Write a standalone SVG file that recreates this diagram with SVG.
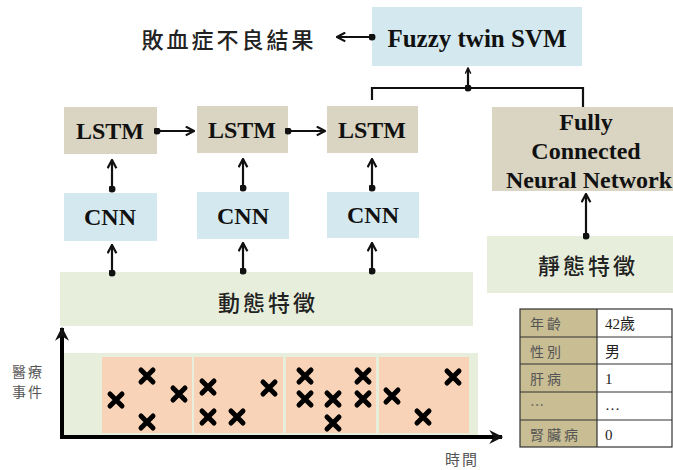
<svg xmlns="http://www.w3.org/2000/svg" width="673" height="470" viewBox="0 0 673 470">
<style>
.en{font-family:"Liberation Serif","Times New Roman",serif;font-weight:bold;font-size:24px;fill:#111;text-anchor:middle}
.cj{font-family:"Noto Sans CJK TC","Noto Sans CJK SC",sans-serif;font-weight:500;font-size:22px;fill:#222;text-anchor:middle;letter-spacing:3px}
.sm{font-family:"Noto Sans CJK TC","Noto Sans CJK SC",sans-serif;font-size:14px;fill:#555;text-anchor:middle;letter-spacing:2px}
.tb{font-family:"Liberation Serif","Noto Sans CJK TC",serif;font-size:15px;fill:#222}
.tl{font-family:"Noto Sans CJK TC",sans-serif;font-size:14px;fill:#555;letter-spacing:3px}
.blue{fill:#d4e9ef}
.tan{fill:#d9d5c2}
.green{fill:#e7efdc}
.org{fill:#f9d3b7}
.ln{stroke:#111;stroke-width:2.2;fill:none}
.x{stroke:#000;stroke-width:5;stroke-linecap:round}
</style>
<defs>
<marker id="ah" viewBox="0 0 10 10" refX="9" refY="5" markerWidth="7" markerHeight="7" orient="auto" markerUnits="userSpaceOnUse">
<path d="M1,1 L9,5 L1,9" fill="none" stroke="#111" stroke-width="2"/>
</marker>
<marker id="ah2" viewBox="0 0 10 10" refX="9" refY="5" markerWidth="11" markerHeight="11" orient="auto" markerUnits="userSpaceOnUse">
<path d="M1.5,1 L9,5 L1.5,9" fill="none" stroke="#111" stroke-width="2"/>
</marker>
<marker id="dot" viewBox="0 0 10 10" refX="5" refY="5" markerWidth="7" markerHeight="7" markerUnits="userSpaceOnUse">
<circle cx="5" cy="5" r="5" fill="#111"/>
</marker>
<marker id="axh" viewBox="0 0 12 12" refX="11" refY="6" markerWidth="16" markerHeight="14" orient="auto" markerUnits="userSpaceOnUse">
<path d="M0,0 L12,6 L0,12 L4,6 Z" fill="#111"/>
</marker>
</defs>

<g id="outcome"><text class="cj" x="229" y="48">敗血症不良結果</text></g>
<g id="svm"><rect class="blue" x="372" y="7" width="210" height="59"/><text class="en" x="477" y="47" style="font-size:25px">Fuzzy twin SVM</text></g>

<g id="lstm1"><rect class="tan" x="64" y="107" width="93" height="47"/><text class="en" x="110" y="139">LSTM</text></g>
<g id="lstm2"><rect class="tan" x="197" y="106" width="91" height="47"/><text class="en" x="242" y="138">LSTM</text></g>
<g id="lstm3"><rect class="tan" x="327" y="106" width="91" height="47"/><text class="en" x="372" y="138">LSTM</text></g>

<g id="fcnn"><rect class="tan" x="492" y="107" width="181" height="84"/>
<text class="en" x="586" y="130">Fully</text>
<text class="en" x="586" y="159">Connected</text>
<text class="en" x="589" y="188">Neural Network</text></g>

<g id="cnn1"><rect class="blue" x="64" y="193" width="93" height="48"/><text class="en" x="110" y="225">CNN</text></g>
<g id="cnn2"><rect class="blue" x="197" y="192" width="92" height="47"/><text class="en" x="243" y="224">CNN</text></g>
<g id="cnn3"><rect class="blue" x="327" y="192" width="92" height="46"/><text class="en" x="373" y="223">CNN</text></g>

<g id="static"><rect class="green" x="487" y="236" width="186" height="57"/><text class="cj" x="588" y="274">靜態特徵</text></g>
<g id="dynamic"><rect class="green" x="60" y="272" width="413" height="54"/><text class="cj" x="268" y="311">動態特徵</text></g>

<g id="timeline">
<rect class="green" x="62" y="353" width="416" height="84"/>
<rect class="org" x="102" y="357" width="90" height="76"/>
<rect class="org" x="194" y="357" width="89" height="76"/>
<rect class="org" x="286" y="357" width="90" height="76"/>
<rect class="org" x="379" y="357" width="90" height="76"/>
<g id="events">
<path class="x" d="M110,394l12,12M122,394l-12,12"/>
<path class="x" d="M141,370l12,12M153,370l-12,12"/>
<path class="x" d="M141,416l12,12M153,416l-12,12"/>
<path class="x" d="M173,388l12,12M185,388l-12,12"/>
<path class="x" d="M202,381l12,12M214,381l-12,12"/>
<path class="x" d="M202,411l12,12M214,411l-12,12"/>
<path class="x" d="M231,411l12,12M243,411l-12,12"/>
<path class="x" d="M263,382l12,12M275,382l-12,12"/>
<path class="x" d="M299,370l12,12M311,370l-12,12"/>
<path class="x" d="M299,393l12,12M311,393l-12,12"/>
<path class="x" d="M327,393l12,12M339,393l-12,12"/>
<path class="x" d="M327,417l12,12M339,417l-12,12"/>
<path class="x" d="M357,370l12,12M369,370l-12,12"/>
<path class="x" d="M357,393l12,12M369,393l-12,12"/>
<path class="x" d="M386,390l12,12M398,390l-12,12"/>
<path class="x" d="M417,411l12,12M429,411l-12,12"/>
<path class="x" d="M447,371l12,12M459,371l-12,12"/>
</g>
<text class="sm" x="28" y="377">醫療</text>
<text class="sm" x="28" y="397">事件</text>
<text class="sm" x="462" y="465" style="font-size:15px">時間</text>
</g>

<g id="table">
<rect x="520" y="309" width="77" height="138" fill="#c8bd93"/>
<rect x="597" y="309" width="75" height="138" fill="#fff"/>
<g stroke="#333" stroke-width="1.2" fill="none">
<rect x="520" y="309" width="152" height="138"/>
<line x1="597" y1="309" x2="597" y2="447"/>
<line x1="520" y1="337" x2="672" y2="337"/>
<line x1="520" y1="364" x2="672" y2="364"/>
<line x1="520" y1="392" x2="672" y2="392"/>
<line x1="520" y1="420" x2="672" y2="420"/>
</g>
<text class="tl" x="530" y="329">年齡</text>
<text class="tl" x="530" y="357">性別</text>
<text class="tl" x="530" y="384">肝病</text>
<text class="tl" x="530" y="410">…</text>
<text class="tl" x="530" y="440">腎臟病</text>
<text class="tb" x="605" y="329">42歲</text>
<text class="tb" x="605" y="357">男</text>
<text class="tb" x="605" y="384">1</text>
<text class="tb" x="605" y="410">…</text>
<text class="tb" x="605" y="440">0</text>
</g>

<g id="connectors">
<line class="ln" x1="372" y1="37" x2="337" y2="37" marker-start="url(#dot)" marker-end="url(#ah2)"/>
<line class="ln" x1="468" y1="88" x2="468" y2="68" marker-start="url(#dot)" marker-end="url(#ah)"/>
<polyline class="ln" points="372,100 372,88 583,88 583,107"/>
<line class="ln" x1="157" y1="131" x2="194" y2="131" marker-start="url(#dot)" marker-end="url(#ah2)"/>
<line class="ln" x1="288" y1="131" x2="325" y2="131" marker-start="url(#dot)" marker-end="url(#ah2)"/>
<line class="ln" x1="112" y1="189" x2="112" y2="160" marker-start="url(#dot)" marker-end="url(#ah2)"/>
<line class="ln" x1="243" y1="188" x2="243" y2="159" marker-start="url(#dot)" marker-end="url(#ah2)"/>
<line class="ln" x1="372" y1="188" x2="372" y2="159" marker-start="url(#dot)" marker-end="url(#ah2)"/>
<line class="ln" x1="112" y1="273" x2="112" y2="245" marker-start="url(#dot)" marker-end="url(#ah2)"/>
<line class="ln" x1="243" y1="271" x2="243" y2="243" marker-start="url(#dot)" marker-end="url(#ah2)"/>
<line class="ln" x1="372" y1="271" x2="372" y2="243" marker-start="url(#dot)" marker-end="url(#ah2)"/>
<line class="ln" x1="586" y1="236" x2="586" y2="194" marker-start="url(#dot)" marker-end="url(#ah2)"/>
<polyline points="62,330 62,437 500,437" fill="none" stroke="#000" stroke-width="4"/>
<line x1="62" y1="345" x2="62" y2="328" stroke="#000" stroke-width="4" marker-end="url(#axh)"/>
<line x1="480" y1="437" x2="502" y2="437" stroke="#000" stroke-width="4" marker-end="url(#axh)"/>
</g>
</svg>
